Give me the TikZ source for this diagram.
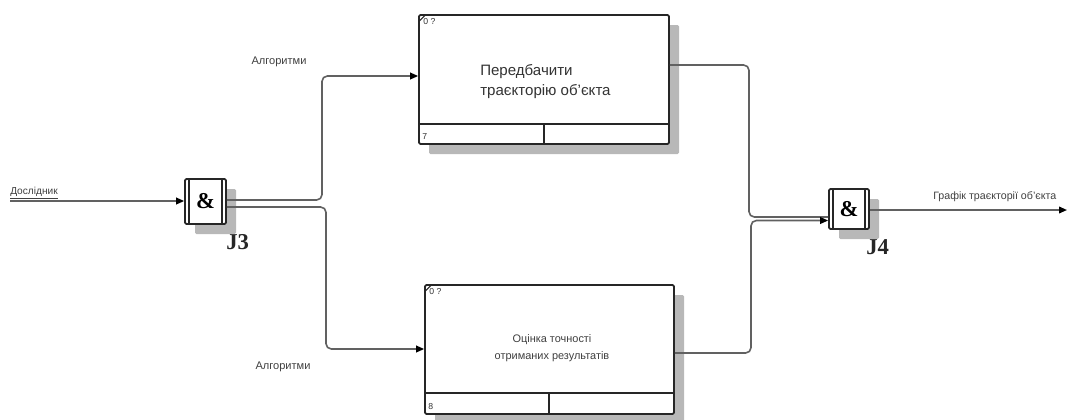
\documentclass[tikz,border=0pt]{standalone}
\usepackage{fontspec}
\setmainfont{Liberation Sans}
\newfontfamily\serifb{Liberation Serif}
\usetikzlibrary{arrows.meta,shadows,calc}
\begin{document}
\begin{tikzpicture}[x=0.75pt,y=-0.75pt,
  conn/.style={draw=black!62, line width=1.2pt, rounded corners=4pt},
  tip/.style={-{Triangle[length=6pt,width=5pt,color=black]}},
  shad/.style={drop shadow={shadow xshift=7.5pt, shadow yshift=-7.5pt, fill=black!28, opacity=1}},
  procbox/.style={draw=black!85, line width=1.3pt, fill=white, rounded corners=1pt, shad},
  junc/.style={draw=black!85, line width=1.3pt, fill=white, rounded corners=1pt, shad, inner sep=0pt},
  lbl/.style={font=\fontsize{8.3}{10}\selectfont, text=black!75},
  tiny/.style={font=\fontsize{6.5}{7}\selectfont, text=black!80, inner sep=0pt},
  jlbl/.style={font=\serifb\bfseries\fontsize{17}{17}\selectfont, text=black!85, inner sep=0pt}]
\useasboundingbox[fill=white] (0,0) rectangle (1068,419);

% process boxes
\node[procbox, minimum width=187.5pt, minimum height=96.75pt] (p1) at (544,79.5) {};
\node[procbox, minimum width=186.75pt, minimum height=96.75pt] (p2) at (549.5,349.5) {};

% compartments
\draw[black!85, line width=1.1pt] ($(p1.south west)+(0,-21)$) -- ($(p1.south east)+(0,-21)$);
\draw[black!85, line width=1.1pt] ($(p1.south west)+(126,-21)$) -- ($(p1.south west)+(126,0)$);
\draw[black!85, line width=1.1pt] ($(p2.south west)+(0,-22)$) -- ($(p2.south east)+(0,-22)$);
\draw[black!85, line width=1.1pt] ($(p2.south west)+(125,-22)$) -- ($(p2.south west)+(125,0)$);
\draw[black!85, line width=0.8pt] ($(p1.north west)+(1,7)$) -- ($(p1.north west)+(7,1)$);
\draw[black!85, line width=0.8pt] ($(p2.north west)+(1,7)$) -- ($(p2.north west)+(7,1)$);

\node[tiny, anchor=north west] (n1) at ($(p1.north west)+(5,4)$) {0 ?};
\node[tiny, anchor=north west] (n2) at ($(p2.north west)+(5,4)$) {0 ?};
\node[tiny, anchor=south west] (c1) at ($(p1.south west)+(4,-5)$) {7};
\node[tiny, anchor=south west] (c2) at ($(p2.south west)+(4,-5)$) {8};

\node[font=\fontsize{11.3}{15}\selectfont, text=black!80, align=left, anchor=west, inner sep=0pt] (t1) at (480,82) {Передбачити\\траєкторію об'єкта};
\node[font=\fontsize{8.2}{12.75}\selectfont, text=black!75, align=center, inner sep=0pt] (t2) at (552,348) {Оцінка точності\\отриманих результатів};

% junctions
\node[junc, minimum width=30.75pt, minimum height=33.75pt] (j3) at (205.5,201.5) {\serifb\bfseries\fontsize{17}{17}\selectfont\&};
\draw[black!85, line width=1pt] ($(j3.north west)+(5,0)$) -- ($(j3.south west)+(5,0)$);
\draw[black!85, line width=1pt] ($(j3.north east)+(-5,0)$) -- ($(j3.south east)+(-5,0)$);
\node[jlbl, anchor=base west] (j3l) at (226,249) {J3};

\node[junc, minimum width=30pt, minimum height=30pt] (j4) at (849,209) {\serifb\bfseries\fontsize{17}{17}\selectfont\&};
\draw[black!85, line width=1pt] ($(j4.north west)+(5,0)$) -- ($(j4.south west)+(5,0)$);
\draw[black!85, line width=1pt] ($(j4.north east)+(-5,0)$) -- ($(j4.south east)+(-5,0)$);
\node[jlbl, anchor=base west] (j4l) at (866,254) {J4};

% connectors
\coordinate (inL) at (10,201);
\draw[conn, tip] (inL) -- (j3.west |- 0,201);
\node[lbl, font=\fontsize{7.6}{9}\selectfont, anchor=base west, inner sep=0pt] (ld) at (10,194) {\underline{Дослідник}};

\draw[conn, tip] (j3.east |- 0,200) -- (322,200) -- (322,76) -- (p1.west |- 0,76);
\draw[conn, tip] (j3.east |- 0,207) -- (326,207) -- (326,349) -- (p2.west |- 0,349);
\node[lbl] (a1) at (279,62) {Алгоритми};
\node[lbl] (a2) at (283,367) {Алгоритми};

\draw[conn] (p1.east |- 0,65) -- (749,65) -- (749,217) -- (j4.west |- 0,217);
\draw[conn, tip] (p2.east |- 0,353) -- (751,353) -- (751,220.5) -- (j4.west |- 0,220.5);

\coordinate (outR) at (1067,210);
\draw[conn, tip] (j4.east |- 0,210) -- (outR);
\node[lbl, font=\fontsize{8}{10}\selectfont, anchor=base west, inner sep=0pt] (lg) at (933,199) {Графік траєкторії об'єкта};
\end{tikzpicture}
\end{document}
